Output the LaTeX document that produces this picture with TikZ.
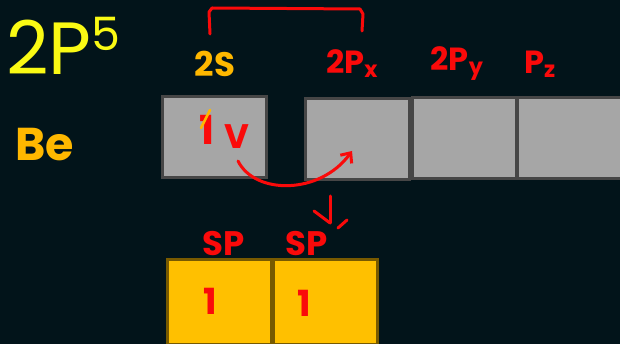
\documentclass[tikz,border=0pt]{standalone}
\usepackage{fontspec}
\setmainfont{Poppins}
\usetikzlibrary{arrows.meta}
\definecolor{bg}{RGB}{2,20,26}
\definecolor{ink}{RGB}{250,10,10}
\definecolor{amber}{RGB}{255,184,0}
\definecolor{lemon}{RGB}{250,250,20}
\definecolor{slot}{RGB}{166,166,166}
\definecolor{slotedge}{RGB}{70,70,70}
\definecolor{hyb}{RGB}{255,192,0}
\definecolor{hybedge}{RGB}{120,90,0}
\tikzset{
  orb/.style={draw=slotedge, fill=slot, line width=3pt, minimum width=104pt, minimum height=81pt, inner sep=0pt},
  hbox/.style={draw=hybedge, fill=hyb, line width=3pt, minimum width=104pt, minimum height=84pt, inner sep=0pt},
  lbl/.style={text=ink, font=\fontsize{32}{32}\selectfont\bfseries, inner sep=0pt},
  elec/.style={text=ink, font=\fontsize{40}{40}\selectfont\bfseries, inner sep=0pt},
  pen/.style={draw=ink, line width=3pt, line cap=round, line join=round}
}
\begin{document}
\begin{tikzpicture}[x=1pt,y=-1pt]
\fill[bg] (0,0) rectangle (620,344);
\useasboundingbox (0,0) rectangle (620,344);

% title and element
\node[text=lemon, anchor=base west, inner sep=0pt, font=\fontsize{74}{74}\selectfont] (title) at (6,75) {2P\raisebox{24pt}{\fontsize{46}{46}\selectfont 5}};
\node[text=amber, anchor=base west, inner sep=0pt, font=\fontsize{46}{46}\selectfont\bfseries] (elem) at (15,161) {Be};

% ground state orbitals
\node[orb] (s) at (214,137.5) {};
\node[orb] (px) at (357.5,139) {};
\node[orb] (py) at (464,138) {};
\node[orb, minimum width=110pt] (pz) at (572,138) {};

\node[text=amber, font=\fontsize{34}{34}\selectfont\bfseries, inner sep=0pt] (lbls) at (215,64) {2S};
\node[lbl] (lblx) at (352,64) {2P\textsubscript{x}};
\node[lbl] (lbly) at (457,64) {2P\textsubscript{y}};
\node[lbl] (lblz) at (540,64) {P\textsubscript{z}};

% bracket over the s and px labels
\draw[pen] (210,34) -- (209,12) -- (212,8) -- (360,9) -- (363,14) -- (362,31);

% electrons in 2s
\node[elec] (e1) at (207,130) {1};
\draw[amber, line width=2.5pt, line cap=round] (201,128) -- (210,110);
\node[elec, font=\fontsize{34}{34}\selectfont\bfseries] (e2) at (237,137) {V};

% promotion arrow
\coordinate (from) at (238,161);
\coordinate (to) at (352,151);
\draw[pen, -{Straight Barb[length=8pt,width=14pt,line width=3pt]}] (from) .. controls (255,195) and (320,195) .. (to);

% hybridisation mark
\draw[pen] (330,196) -- (330,223);
\draw[pen] (314,211) -- (330,223);
\draw[pen] (338,228) -- (347,220);

% hybrid orbitals
\node[lbl, font=\fontsize{34}{34}\selectfont\bfseries] (sp1) at (224,244) {SP};
\node[lbl, font=\fontsize{34}{34}\selectfont\bfseries] (sp2) at (307,244) {SP};
\node[hbox] (h1) at (219.5,302) {};
\node[hbox] (h2) at (325.5,302) {};
\node[elec, font=\fontsize{36}{36}\selectfont\bfseries] (h1e) at (210,301) {1};
\node[elec, font=\fontsize{36}{36}\selectfont\bfseries] (h2e) at (304,303) {1};
\end{tikzpicture}
\end{document}
